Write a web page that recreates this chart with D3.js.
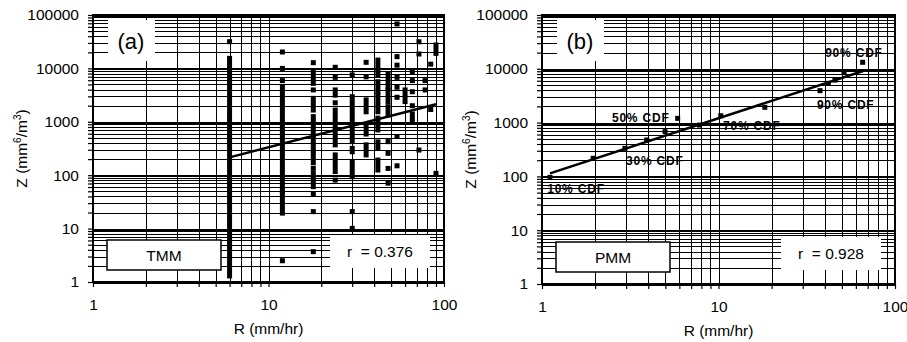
<!DOCTYPE html>
<html>
<head>
<meta charset="utf-8">
<script src="https://cdn.jsdelivr.net/npm/d3@7"></script>
<style>
  body { margin: 0; background: #fff; }
  svg { display: block; font-family: "Liberation Sans", Arial, sans-serif; }
</style>
</head>
<body>
<svg id="chart" width="907" height="342"></svg>
<script>
// ---- data ----
const xTickValues = [1, 10, 100];
const yTickValues = [1, 10, 100, 1000, 10000, 100000];

// TMM: [R, Z low, Z high] - a run of stacked markers (low == high for a single point)
const tmmRuns = [
  [6, 31600, 31600], [6, 1.3, 15400],
  [12, 20300, 20300], [12, 10000, 10000], [12, 5900, 5900], [12, 49, 4500], [12, 19.5, 46], [12, 2.5, 2.5],
  [18, 12800, 12800], [18, 5250, 8700], [18, 3950, 3950], [18, 1660, 2750], [18, 296, 1250], [18, 171, 250],
  [18, 134, 134], [18, 61, 108], [18, 44.5, 44.5], [18, 20.8, 20.8], [18, 3.7, 3.7],
  [24, 10500, 10500], [24, 6800, 6800], [24, 3160, 3950], [24, 2270, 2270], [24, 370, 1660], [24, 117, 240], [24, 81, 81],
  [30, 7550, 7550], [30, 2950, 2950], [30, 425, 2390], [30, 275, 318], [30, 94, 179], [30, 20.8, 20.8], [30, 10.1, 10.1],
  [36, 13000, 13000], [36, 6950, 6950], [36, 1540, 2570], [36, 590, 790], [36, 240, 370],
  [42, 7550, 14300], [42, 3660, 5630], [42, 1540, 3180], [42, 705, 1170], [42, 318, 420], [42, 125, 192],
  [48, 4500, 7900], [48, 2390, 3950], [48, 1340, 1920], [48, 425, 425], [48, 257, 257], [48, 134, 134], [48, 71, 71],
  [54, 68000, 68000], [54, 16600, 16600], [54, 11500, 11500], [54, 6800, 6800], [54, 4440, 4440], [54, 2880, 2880],
  [54, 530, 530], [54, 150, 150],
  [60, 2390, 3950],
  [66, 8500, 8500], [66, 5900, 5900], [66, 3660, 3660], [66, 2000, 2000], [66, 1080, 1400],
  [72, 31500, 31500], [72, 18600, 18600], [72, 296, 296],
  [78, 5900, 5900], [78, 3950, 3950],
  [84, 12000, 12000], [84, 1700, 1700],
  [90, 19100, 27500], [90, 108, 108]
];
const tmmFit = [[6, 216], [90, 2130]];

// PMM points
const pmmRate = [1.11, 1.95, 2.95, 3.92, 4.98, 5.87, 7.8, 10.3, 18.3, 37.6, 41.9, 45.7, 51.4, 65.6];
const pmmZ    = [96, 217, 333, 475, 678, 1200, 900, 1340, 1925, 3920, 5370, 6170, 8500, 13200];
const pmmFit = [[1.11, 114], [66, 9100]];
const pmmLabels = [
  { text: "10% CDF", r: 1.07, z: 49 },
  { text: "30% CDF", r: 2.99, z: 163 },
  { text: "50% CDF", r: 2.49, z: 1026 },
  { text: "70% CDF", r: 10.6, z: 728 },
  { text: "90% CDF", r: 36.1, z: 1790 },
  { text: "90% CDF", r: 40.2, z: 16600 }
];

const panels = [
  { tag: "(a)", method: "TMM", rText: "r  = 0.376", left: 93, right: 444, top: 15, bottom: 282 },
  { tag: "(b)", method: "PMM", rText: "r  = 0.928", left: 542, right: 895, top: 15, bottom: 284 }
];

const svg = d3.select("#chart");
const isPow10 = v => Math.abs(Math.log10(v) - Math.round(Math.log10(v))) < 1e-9;
const MARK = 5;

function drawPanel(p) {
  const x = d3.scaleLog().domain([1, 100]).range([p.left, p.right]);
  const y = d3.scaleLog().domain([1, 100000]).range([p.bottom, p.top]);
  const g = svg.append("g");

  // grid
  const grid = g.append("g").attr("shape-rendering", "crispEdges").attr("stroke", "#000");
  grid.selectAll("line.gy").data(y.ticks()).enter().append("line")
      .attr("x1", p.left).attr("x2", p.right)
      .attr("y1", d => Math.round(y(d)) + 0.5).attr("y2", d => Math.round(y(d)) + 0.5)
      .attr("stroke-width", d => isPow10(d) ? 2 : 1);
  grid.selectAll("line.gx").data(x.ticks()).enter().append("line")
      .attr("y1", p.top).attr("y2", p.bottom)
      .attr("x1", d => Math.round(x(d)) + 0.5).attr("x2", d => Math.round(x(d)) + 0.5)
      .attr("stroke-width", 1);

  // axes (ticks outside the frame)
  const xAxis = d3.axisBottom(x).tickValues(x.ticks()).tickSize(5).tickPadding(12)
      .tickFormat(d => xTickValues.includes(d) ? String(d) : "");
  const yAxis = d3.axisLeft(y).tickValues(y.ticks()).tickSize(5).tickPadding(9)
      .tickFormat(d => yTickValues.includes(d) ? String(d) : "");
  const gx = g.append("g").attr("transform", `translate(0,${p.bottom})`).call(xAxis);
  const gy = g.append("g").attr("transform", `translate(${p.left},0)`).call(yAxis);
  [gx, gy].forEach(a => {
    a.select(".domain").remove();
    a.selectAll("line").attr("stroke", "#000").attr("stroke-width", 1.2);
    a.selectAll("text").attr("font-family", "Liberation Sans, Arial, sans-serif")
      .attr("font-size", 15.5).attr("fill", "#000");
  });

  // frame
  g.append("rect").attr("x", p.left).attr("y", p.top)
      .attr("width", p.right - p.left).attr("height", p.bottom - p.top)
      .attr("fill", "none").attr("stroke", "#000").attr("stroke-width", 2);

  // boxes
  g.append("rect").attr("x", p.left + 15).attr("y", p.top + 5).attr("width", 47).attr("height", 41).attr("fill", "#fff");
  g.append("text").attr("x", p.left + 38).attr("y", p.top + 34).attr("text-anchor", "middle")
      .attr("font-size", 22).text(p.tag);

  g.append("rect").attr("x", p.left + 14).attr("y", p.bottom - 42).attr("width", 114).attr("height", 30)
      .attr("fill", "#fff").attr("stroke", "#000").attr("stroke-width", 1.5);
  g.append("text").attr("x", p.left + 71).attr("y", p.bottom - 21).attr("text-anchor", "middle")
      .attr("font-size", 15.5).text(p.method);

  g.append("rect").attr("x", p.right - 114).attr("y", p.bottom - 47).attr("width", 100).attr("height", 33).attr("fill", "#fff");
  g.append("text").attr("x", p.right - 64).attr("y", p.bottom - 25).attr("text-anchor", "middle")
      .attr("font-size", 15.5).style("white-space", "pre").text(p.rText);

  // axis titles
  g.append("text").attr("x", (p.left + p.right) / 2).attr("y", p.bottom + 52)
      .attr("text-anchor", "middle").attr("font-size", 15.5).text("R (mm/hr)");
  const yt = g.append("text")
      .attr("transform", `translate(${p.left - 66},${(p.top + p.bottom) / 2}) rotate(-90)`)
      .attr("text-anchor", "middle").attr("font-size", 15.5);
  yt.append("tspan").text("Z (mm");
  yt.append("tspan").attr("font-size", 10).attr("dy", -6).text("6");
  yt.append("tspan").attr("dy", 6).text("/m");
  yt.append("tspan").attr("font-size", 10).attr("dy", -6).text("3");
  yt.append("tspan").attr("dy", 6).text(")");

  return { g, x, y };
}

const line = (x, y) => d3.line().x(d => x(d[0])).y(d => y(d[1]));

// panel (a)
{
  const { g, x, y } = drawPanel(panels[0]);
  g.append("g").selectAll("rect").data(tmmRuns).enter().append("rect")
      .attr("x", d => x(d[0]) - MARK / 2)
      .attr("width", MARK)
      .attr("y", d => y(d[2]) - MARK / 2)
      .attr("height", d => y(d[1]) - y(d[2]) + MARK)
      .attr("fill", "#000");
  g.append("path").datum(tmmFit).attr("d", line(x, y))
      .attr("fill", "none").attr("stroke", "#000").attr("stroke-width", 2.5);
}

// panel (b)
{
  const { g, x, y } = drawPanel(panels[1]);
  g.append("path").datum(pmmFit).attr("d", line(x, y))
      .attr("fill", "none").attr("stroke", "#000").attr("stroke-width", 2.5);
  g.append("g").selectAll("rect").data(pmmRate).enter().append("rect")
      .attr("x", d => x(d) - 2.5).attr("width", 5)
      .attr("y", (d, i) => y(pmmZ[i]) - 2.5).attr("height", 5)
      .attr("fill", "#000");
  g.append("g").selectAll("text").data(pmmLabels).enter().append("text")
      .attr("x", d => x(d.r)).attr("y", d => y(d.z))
      .attr("font-size", 12).attr("font-weight", "bold").attr("letter-spacing", 0.8)
      .text(d => d.text);
}
</script>
</body>
</html>
